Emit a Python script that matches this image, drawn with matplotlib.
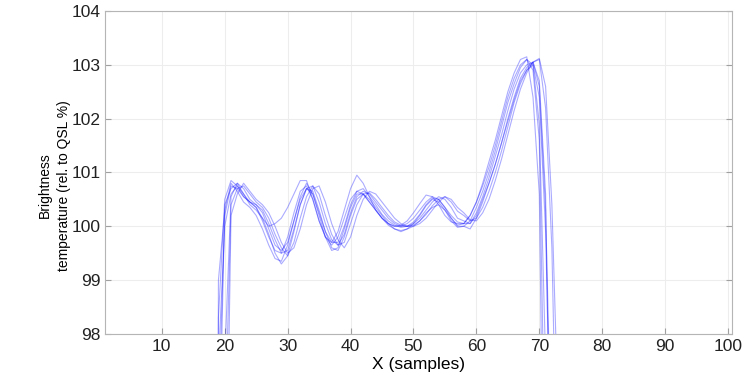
import numpy as np
import matplotlib.pyplot as plt

plt.rcParams['font.family'] = ['Liberation Sans', 'DejaVu Sans']

# sample index shared by all scans
samples = np.arange(18, 75)

# brightness temperature per scan (values far below 98 are off the axes)
scan1 = [60, 98.3, 100.5, 100.85, 100.75, 100.55, 100.45, 100.35, 100.15, 100.0,
         100.05, 100.15, 100.35, 100.6, 100.85, 100.85, 100.5, 100.1, 99.8, 99.7,
         99.9, 100.3, 100.7, 100.95, 100.8, 100.55, 100.3, 100.15, 100.05, 100.0,
         100.02, 100.1, 100.25, 100.42, 100.58, 100.55, 100.4, 100.2, 100.08, 100.05,
         100.05, 100.2, 100.45, 100.8, 101.2, 101.6, 102.05, 102.5, 102.85, 103.1,
         103.15, 102.4, 100.6, 92, 60, 60, 60]
scan2 = [60, 96.5, 100.2, 100.75, 100.7, 100.55, 100.45, 100.35, 100.1, 99.8,
         99.55, 99.5, 99.8, 100.25, 100.65, 100.75, 100.5, 100.1, 99.8, 99.65,
         99.8, 100.15, 100.5, 100.65, 100.6, 100.45, 100.3, 100.15, 100.05, 100.0,
         100.0, 100.05, 100.15, 100.3, 100.45, 100.55, 100.5, 100.35, 100.15, 100.02,
         100.05, 100.2, 100.45, 100.75, 101.1, 101.5, 101.95, 102.4, 102.75, 103.0,
         103.1, 102.9, 101.6, 95, 60, 60, 60]
scan3 = [60, 60, 97.5, 100.55, 100.8, 100.7, 100.5, 100.4, 100.3, 100.05,
         99.75, 99.5, 99.55, 99.95, 100.4, 100.7, 100.75, 100.45, 100.05, 99.75,
         99.65, 99.85, 100.25, 100.55, 100.65, 100.6, 100.45, 100.3, 100.15, 100.05,
         100.0, 100.0, 100.05, 100.15, 100.3, 100.45, 100.55, 100.5, 100.35, 100.15,
         100.1, 100.05, 100.2, 100.5, 100.8, 101.15, 101.55, 102.0, 102.4, 102.75,
         102.95, 103.05, 102.7, 100.6, 93, 60, 60]
scan4 = [60, 97.5, 100.0, 100.6, 100.75, 100.6, 100.4, 100.3, 100.15, 99.85,
         99.5, 99.3, 99.45, 99.9, 100.4, 100.7, 100.65, 100.3, 99.9, 99.6,
         99.55, 99.8, 100.2, 100.5, 100.6, 100.5, 100.35, 100.2, 100.05, 99.95,
         99.9, 99.95, 100.0, 100.1, 100.25, 100.35, 100.4, 100.3, 100.15, 100.0,
         100.0, 99.95, 100.15, 100.45, 100.8, 101.15, 101.55, 101.95, 102.35, 102.7,
         102.9, 103.0, 102.4, 99.9, 95, 60, 60]
scan5 = [60, 60, 96.0, 100.4, 100.7, 100.75, 100.6, 100.45, 100.35, 100.15,
         99.85, 99.6, 99.45, 99.7, 100.15, 100.55, 100.75, 100.6, 100.2, 99.85,
         99.65, 99.7, 100.05, 100.4, 100.6, 100.62, 100.5, 100.35, 100.2, 100.08,
         100.02, 100.0, 100.02, 100.1, 100.22, 100.38, 100.5, 100.55, 100.45, 100.28,
         100.2, 100.1, 100.15, 100.35, 100.65, 101.0, 101.4, 101.85, 102.3, 102.65,
         102.9, 103.05, 103.1, 102.2, 99.6, 94, 60]
scan6 = [60, 60, 93.0, 100.2, 100.6, 100.8, 100.65, 100.5, 100.4, 100.25,
         100.0, 99.7, 99.5, 99.6, 99.95, 100.4, 100.7, 100.75, 100.45, 100.05,
         99.75, 99.6, 99.8, 100.2, 100.5, 100.65, 100.6, 100.45, 100.3, 100.15,
         100.05, 100.0, 100.0, 100.05, 100.15, 100.3, 100.45, 100.55, 100.5, 100.35,
         100.25, 100.12, 100.1, 100.25, 100.5, 100.85, 101.25, 101.7, 102.15, 102.55,
         102.85, 103.05, 103.12, 102.6, 100.4, 96.5, 60]
scan7 = [60, 99.0, 100.3, 100.8, 100.65, 100.45, 100.35, 100.2, 99.95, 99.65,
         99.4, 99.35, 99.65, 100.1, 100.55, 100.8, 100.6, 100.2, 99.8, 99.55,
         99.6, 99.95, 100.35, 100.6, 100.6, 100.45, 100.3, 100.15, 100.02, 99.95,
         99.92, 99.95, 100.05, 100.2, 100.38, 100.5, 100.45, 100.3, 100.1, 99.98,
         100.0, 100.1, 100.35, 100.65, 101.0, 101.4, 101.85, 102.3, 102.65, 102.95,
         103.1, 103.0, 101.9, 97.5, 60, 60, 60]
scan8 = [60, 95.0, 100.4, 100.7, 100.8, 100.6, 100.45, 100.4, 100.25, 99.95,
         99.65, 99.55, 99.7, 100.1, 100.5, 100.7, 100.6, 100.25, 99.9, 99.7,
         99.7, 100.0, 100.4, 100.65, 100.7, 100.55, 100.4, 100.22, 100.1, 100.02,
         99.98, 100.0, 100.08, 100.22, 100.4, 100.52, 100.5, 100.35, 100.2, 100.08,
         100.05, 100.05, 100.25, 100.55, 100.9, 101.3, 101.7, 102.15, 102.55, 102.85,
         103.0, 103.05, 102.6, 100.3, 95.5, 60, 60]

scans = [scan1, scan2, scan3, scan4, scan5, scan6, scan7, scan8]
xticks = np.arange(10, 101, 10)
yticks = np.arange(98, 105, 1)

fig = plt.figure(figsize=(7.46, 3.82), dpi=100)
ax = fig.add_axes([0.141, 0.126, 0.84, 0.845])

for s in scans:
    ax.plot(samples, s, color='#0000ff', alpha=0.33, lw=0.8)

ax.set_xlim(1, 100.6)
ax.set_ylim(98, 104)
ax.set_xticks(xticks)
ax.set_yticks(yticks)
ax.grid(True, color='#ededed', lw=0.8)
ax.set_axisbelow(True)
for sp in ax.spines.values():
    sp.set_color('#b5b5b5')
ax.tick_params(direction='in', length=4, color='#a0a0a0', labelsize=12.5,
               top=False, right=True, labelcolor='#222222')

ax.set_xlabel('X (samples)', fontsize=12.5, labelpad=2)
ax.set_ylabel('Brightness\ntemperature (rel. to QSL %)', fontsize=10,
              linespacing=1.45)
ax.yaxis.set_label_coords(-0.055, 0.46)

fig.savefig('out.png', dpi=100)
